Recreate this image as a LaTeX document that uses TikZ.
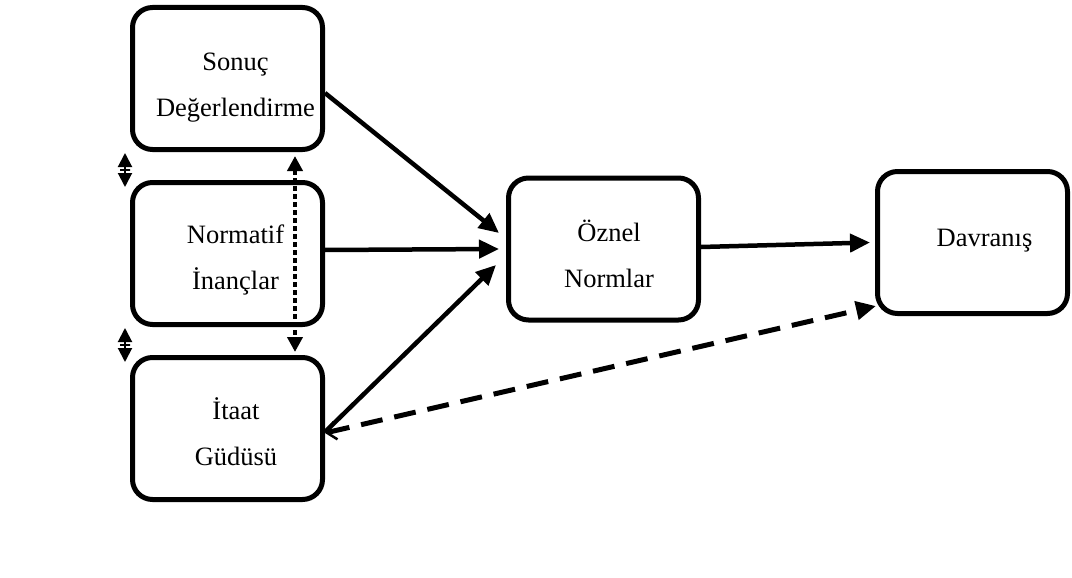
\documentclass[tikz,border=0pt]{standalone}
\usepackage{fontspec}
\setmainfont{Liberation Serif}
\usetikzlibrary{positioning, arrows.meta}
\definecolor{cizgi}{RGB}{0,0,0}

\begin{document}
\begin{tikzpicture}[x=1pt, y=1pt, >={Triangle[length=20pt, width=18pt]},
    kutu/.style={draw=cizgi, line width=5pt, rounded corners=20pt,
      minimum width=190pt, minimum height=142pt},
    yazi/.style={align=center, font=\fontsize{26.5}{46}\selectfont},
    ok/.style={->, line width=4.5pt, cizgi},
    kesikli/.style={{Straight Barb[length=9pt, width=18pt, line width=2.5pt]}->,
      line width=5pt, dash pattern=on 22pt off 12pt},
    noktali/.style={{Triangle[length=15pt, width=15pt]}-{Triangle[length=15pt, width=15pt]},
      line width=4.5pt, dash pattern=on 4.5pt off 3.5pt},
    kucukok/.style={{Triangle[length=14pt, width=14pt]}-{Triangle[length=14pt, width=14pt]},
      line width=2pt},
    ara/.style={draw, line width=2pt, minimum width=10pt, minimum height=0pt,
      inner sep=0pt}]

  \useasboundingbox (0,0) rectangle (1072,-578);

  % --- kutular ---
  \node[kutu] (sonuc) at (227.5,-78.5) {};
  \node[kutu] (normatif) at (227.5,-253.5) {};
  \node[kutu] (itaat) at (227.5,-428.5) {};
  \node[kutu] (oznel) at (603.5,-249) {};
  \node[kutu] (davranis) at (972.5,-242.5) {};

  \node[yazi] (sonuct) at ([xshift=8pt, yshift=-9pt]sonuc.center) {Sonuç\\Değerlendirme};
  \node[yazi] (normatift) at ([xshift=8pt, yshift=-6pt]normatif.center) {Normatif\\İnançlar};
  \node[yazi] (itaatt) at ([xshift=8.5pt, yshift=-3pt]itaat.center) {İtaat\\Güdüsü};
  \node[yazi] (oznelt) at ([xshift=5.5pt, yshift=-4.5pt]oznel.center) {Öznel\\Normlar};
  \node[yazi] (davranist) at ([xshift=12pt, yshift=1.5pt]davranis.center) {Davranış};

  % --- oklar ---
  \draw[ok] ([yshift=-14.5pt]sonuc.east) -- ([xshift=-7pt, yshift=16pt]oznel.west);
  \draw[ok] ([yshift=3.5pt]normatif.east) -- ([xshift=-7pt]oznel.west);
  \draw[ok] ([yshift=-3.5pt]itaat.east) -- ([xshift=-10pt, yshift=-16pt]oznel.west);
  \draw[ok] ([yshift=2pt]oznel.east) -- ([xshift=-5pt]davranis.west);

  \draw[kesikli] ([yshift=-4.5pt]itaat.east) -- ([xshift=1pt, yshift=10pt]davranis.south west);

  % --- karşılıklı ilişkiler ---
  \draw[noktali] ([xshift=-30pt, yshift=-4pt]sonuc.south east) -- ([xshift=-30pt, yshift=3pt]itaat.north east);

  \draw[kucukok] ([xshift=-5pt, yshift=-1pt]sonuc.south west) --
        node[ara, midway] (ara1) {} ([xshift=-5pt, yshift=-7pt]normatif.north west);
  \draw[kucukok] ([xshift=-5pt, yshift=-1pt]normatif.south west) --
        node[ara, midway] (ara2) {} ([xshift=-5pt, yshift=-7pt]itaat.north west);
\end{tikzpicture}
\end{document}
